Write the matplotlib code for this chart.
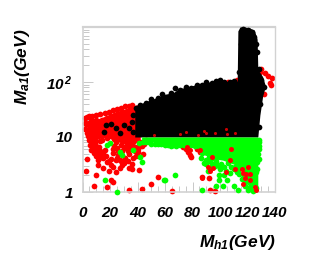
import matplotlib
matplotlib.use('Agg')
from matplotlib import pyplot as plt
from matplotlib.ticker import NullFormatter, FixedLocator

plt.rcParams['font.family'] = ['Liberation Sans']
plt.rcParams['mathtext.fontset'] = 'custom'
plt.rcParams['mathtext.rm'] = 'Liberation Sans:italic:bold'
plt.rcParams['mathtext.it'] = 'Liberation Sans:italic:bold'
plt.rcParams['mathtext.bf'] = 'Liberation Sans:italic:bold'

# solid areas
black_x = [38, 45, 52, 60, 66, 70, 76, 84, 92, 100, 106, 112.5, 113, 114.5, 118, 122, 125, 127, 127.5, 131, 133, 131, 129, 127.5]
black_top = [36, 43, 50, 60, 64, 76, 80, 92, 100, 108, 102, 104, 850, 1000, 1000, 950, 870, 600, 170, 125, 85, 55, 25, 10]
red_x = [3, 8, 13, 18, 24, 30, 37, 42]
red_top = [20, 21, 22, 25, 29, 32, 37, 40]
red_low = [10, 8.5, 9.5, 9.8, 8.5, 7.5, 7.5, 8.5]
green_x = [43, 50, 60, 70, 76, 84, 88, 92, 96, 102, 110, 116, 120, 123, 126, 127.5]
green_low = [9, 8.2, 7.6, 7.2, 7.2, 6.2, 4.8, 4.4, 4, 3.8, 3.2, 2.4, 1.8, 1.3, 1.1, 1.1]

# single points
red_m = [2.5, 3.5, 10, 8.6, 18, 20.5, 22, 34, 43, 36, 41, 50, 55, 65, 86.7, 92, 93, 96,
         2, 1.5, 2, 3, 3, 4.5, 7, 10, 13, 16, 19, 22, 25, 28, 31, 34, 36, 2.5, 4, 6,
         5.5, 8, 10, 12.7, 15, 11.5, 15, 19.5, 21, 20.5, 22.5, 16.5, 26, 30, 27, 34,
         6, 9, 12, 14, 23, 25, 28, 31, 33, 35, 38, 40, 43, 46, 27, 31, 36, 39, 44, 23, 18, 13, 7, 6,
         5, 7, 9, 11, 13, 15, 24, 26, 29, 32, 34, 37, 40, 42, 45, 48, 8, 10, 12, 14, 17, 19, 24, 22, 25, 28,
         30, 33, 36, 38, 41, 29, 33, 37, 9, 11, 22, 24, 18,
         6, 10, 14, 18, 22, 26, 30, 34, 8, 12, 16, 20, 24, 28, 32, 36, 6, 10, 14, 18, 22, 26, 30, 34,
         73, 75, 77, 78, 85.5, 84, 77, 80, 72, 74, 79, 83, 130, 129, 133, 138, 137, 136, 132, 135, 112, 106]
red_y = [2.4, 3.9, 2.06, 1.28, 1.23, 1.65, 1.54, 1.09, 1.13, 2.6, 2.5, 1.4, 1.9, 1.04, 1.87, 1.8, 1.08, 1.04,
         22, 18, 14, 23, 12, 24, 24, 25, 26, 27, 29, 31, 32, 34, 36, 37, 38, 17, 10.5, 21,
         7.2, 6.7, 5.8, 4.7, 4.1, 3.1, 2.7, 2.4, 3.1, 4, 5.1, 5.8, 4.7, 3.4, 2.7, 2.7,
         5.8, 8.5, 6.5, 8.8, 7, 6.2, 7.2, 6.4, 5.5, 7.5, 6.5, 5.4, 6.8, 8.8, 3.8, 4.2, 3.2, 4.6, 5, 9.2, 9.5, 8.5, 9.8, 13,
         9, 8, 7.4, 5, 5.6, 4.9, 8, 5.5, 5.6, 7.8, 5, 8, 6.1, 8, 7.5, 8.5, 5.2, 4.5, 4.2, 5.3, 4.6, 3.6, 3.8, 6, 4.1, 3.7,
         6.5, 7, 6.2, 5.6, 7, 3.1, 3.6, 4.2, 7.6, 3.8, 2.9, 2.3, 3.5,
         12, 12, 13, 13, 12, 13, 13, 14, 16, 16, 17, 18, 19, 20, 21, 23, 19, 20, 20, 22, 24, 25, 27, 29,
         6.6, 6, 5.3, 4.7, 5.3, 7.2, 8.1, 7.5, 7.2, 6.9, 4.4, 6, 170, 150, 146, 118, 88, 95, 60, 130, 109, 100]
red_over_m = [78, 76, 87, 91.5, 93, 95, 104, 107, 111, 117, 117, 119, 122, 125.5, 126, 85.5, 94, 118, 120, 116, 122, 108]
red_over_y = [5.8, 6.6, 1.8, 2.8, 2.4, 2.7, 2.3, 3.8, 2.6, 2.2, 1.4, 2.1, 1.65, 1.25, 1.1, 5.8, 4.4, 1.8, 2.8, 2.6, 2.1, 6]
green_m = [16.6, 25, 59, 67, 60, 17.5, 20, 27, 28.5, 37, 41, 42, 43, 44, 46, 48, 50, 53, 55, 57, 60, 62, 64, 66, 68, 71, 74, 76, 79, 82,
           87, 97, 102, 110, 113, 99, 105, 99, 92, 90, 88, 93, 96, 101, 104, 108, 112, 116, 118, 124, 126, 128,
           127, 128, 122, 124, 120, 90, 94, 97, 100, 106, 110, 114, 118, 121, 86, 89, 95, 103, 117, 123,
           128, 128.5, 128, 127.5, 127, 126, 125, 123, 121, 119, 86, 87, 90, 92, 94, 98, 100, 91, 93, 103, 107, 111, 113, 115]
green_y = [1.67, 1.01, 1.65, 2, 1.65, 7.2, 7.8, 5.3, 4.7, 5.8, 7.8, 4.3, 3.5, 8, 8.1, 8.2, 7.4, 7.4, 7.6, 7.6, 7.2, 7.1, 7, 7.3, 7, 7.2, 7.2, 7.5, 7.2, 7,
           1.08, 1.28, 1.28, 1.3, 1.09, 1.65, 1.65, 2, 4.4, 3.8, 3.4, 2.7, 3, 3.2, 2.4, 2.8, 2.3, 1.7, 1.5, 1.05, 1.2, 4,
           2.6, 7, 1.25, 1.5, 1.1, 5.4, 4.2, 3.6, 2.9, 3.4, 2.6, 2.1, 1.3, 1.6, 4.2, 5.6, 3.2, 2, 2.1, 1.9,
           9, 8, 6, 5, 3.5, 2.3, 1.8, 1.6, 1.5, 1.8, 6.4, 5.2, 3.2, 3.6, 3.2, 3.1, 2.6, 2.4, 3.8, 2.8, 2.2, 2.9, 2.5, 2.9]
black_m = [15.6, 17, 21, 24, 30, 34, 27, 37, 39, 42, 46, 50, 55, 58, 64, 67, 71, 75, 79, 83, 87, 90, 94, 97, 100, 103,
           107, 110, 114, 115, 117, 120, 123, 125, 126, 127, 128, 130, 132, 129, 128, 37, 36]
black_y = [12.5, 16.5, 17, 14.6, 16.5, 14.6, 11.8, 12.5, 33, 38, 42, 50, 52, 60, 62, 78, 72, 82, 78, 88, 88, 98, 95, 105, 110, 100,
           100, 105, 150, 500, 930, 900, 800, 650, 500, 350, 170, 110, 80, 40, 15, 25, 19]
red_top_m = [52, 71, 84, 90, 105, 111, 75, 88, 96, 104]
red_top_y = [10.8, 11.3, 11, 12, 11.5, 12, 12.2, 13, 12, 14]

xticks = [0, 20, 40, 60, 80, 100, 120, 140]
xminor = [5, 10, 15, 25, 30, 35, 45, 50, 55, 65, 70, 75, 85, 90, 95, 105, 110, 115, 125, 130, 135]
yticks = [1, 10, 100]
ylabels = ['1', '10', r'$10^{\,2}$']

fig = plt.figure(figsize=(3.31, 2.76), dpi=100)
ax = fig.add_axes([82.5/331, 1-192/276, (275-82.5)/331, (192-27)/276])
s = 17

ax.fill_between(red_x, red_low, red_top, color='#ff0000', lw=0, zorder=1)
ax.scatter(red_m, red_y, s=s, c='#ff0000', lw=0, zorder=2, clip_on=False)
ax.fill_between(black_x, [10]*len(black_x), black_top, color='black', lw=0, zorder=3)
ax.scatter(black_m, black_y, s=s, c='black', lw=0, zorder=4, clip_on=False)
ax.scatter(red_top_m, red_top_y, s=5, c='#cc0000', lw=0, zorder=5)
ax.fill_between(green_x, green_low, [10]*len(green_x), color='#00ff00', lw=0, zorder=6)
ax.scatter(green_m, green_y, s=s, c='#00ff00', lw=0, zorder=7, clip_on=False)
ax.scatter(red_over_m, red_over_y, s=s-4, c='#ff0000', lw=0, zorder=8)

ax.set_xlim(0, 140)
ax.set_yscale('log')
ax.set_ylim(1, 1000)
ax.xaxis.set_major_locator(FixedLocator(xticks))
ax.xaxis.set_minor_locator(FixedLocator(xminor))
ax.set_xticklabels([str(t) for t in xticks])
ax.yaxis.set_major_locator(FixedLocator(yticks))
ax.set_yticklabels(ylabels)
ax.yaxis.set_minor_formatter(NullFormatter())
ax.tick_params(which='major', direction='in', length=7, width=0.7, color='#c8c8c8', pad=10)
ax.tick_params(which='minor', direction='in', length=4, width=0.7, color='#c8c8c8')
ax.tick_params(axis='y', pad=7)
for lab in ax.get_xticklabels() + ax.get_yticklabels():
    lab.set_fontsize(11)
    lab.set_fontweight('bold')
    lab.set_fontstyle('italic')
for sp in ax.spines.values():
    sp.set_color('#d2d2d2')
    sp.set_linewidth(1.0)
ax.spines['top'].set_linewidth(1.6)
ax.spines['left'].set_linewidth(1.2)
ax.spines['bottom'].set_linewidth(1.2)

fig.text(237/331, 1-243/276, r'$M_{h1}(GeV)$', fontsize=12.5, ha='center', va='center')
fig.text(23/331, 1-67/276, r'$M_{a1}(GeV)$', fontsize=12.5, rotation=90, ha='center', va='center')

fig.savefig('out.png', dpi=100)
